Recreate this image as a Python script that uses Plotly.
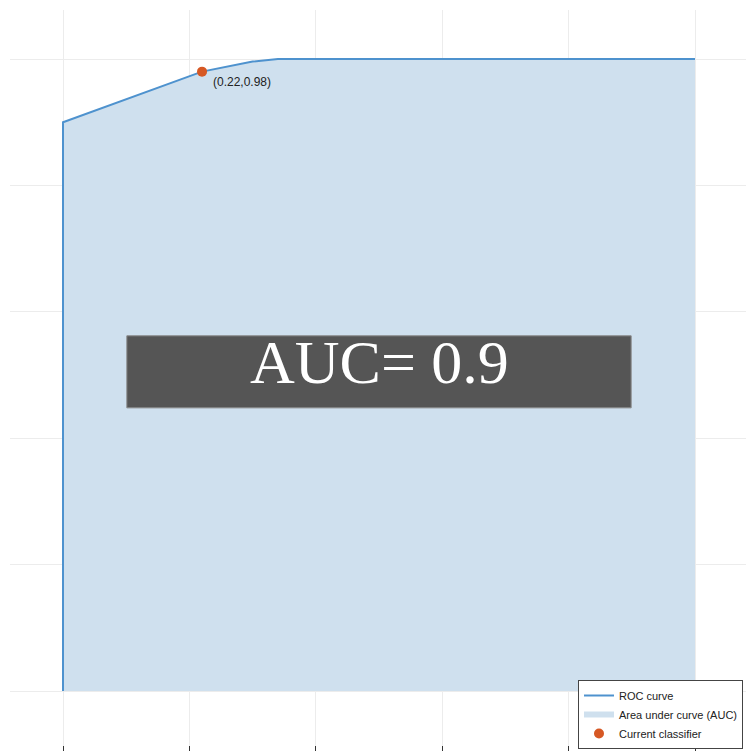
import plotly.graph_objects as go

# ROC data
fpr = [0.0, 0.0, 0.22, 0.30, 0.34, 1.0]
tpr = [0.0, 0.90, 0.98, 0.996, 1.0, 1.0]
classifier_x = [0.22]
classifier_y = [0.98]
classifier_label = "(0.22,0.98)"
auc_value = 0.9
grid_ticks = [0, 0.2, 0.4, 0.6, 0.8, 1.0]

LINE = "rgb(78,146,206)"
FILL = "rgb(207,224,238)"
DOT = "rgb(214,88,36)"

fig = go.Figure()
fig.add_trace(go.Scatter(
    x=fpr + [1.0], y=tpr + [0.0], mode="none", fill="toself", fillcolor=FILL,
    name="Area under curve (AUC)", legendrank=2, hoverinfo="skip"))
fig.add_trace(go.Scatter(
    x=fpr, y=tpr, mode="lines", line=dict(color=LINE, width=2),
    name="ROC curve", legendrank=1))
fig.add_trace(go.Scatter(
    x=classifier_x, y=classifier_y, mode="markers",
    marker=dict(color=DOT, size=10), name="Current classifier", legendrank=3))

fig.add_annotation(x=classifier_x[0], y=classifier_y[0], text=classifier_label,
                   showarrow=False, xanchor="left", yanchor="top", xshift=9, yshift=-1,
                   font=dict(family="Liberation Sans, Arial", size=12, color="#222"))

# AUC textbox
fig.add_shape(type="rect", x0=0.101, x1=0.899, y0=0.448, y1=0.562, xref="x", yref="y",
              fillcolor="#555555", line=dict(color="#8a8a8a", width=1))
fig.add_annotation(x=0.5, y=0.521, text=f"AUC= {auc_value}", showarrow=False,
                   xanchor="center", yanchor="middle",
                   font=dict(family="Liberation Serif, Times New Roman", size=62, color="white"))

fig.update_layout(
    width=746, height=751,
    margin=dict(l=10, r=0, t=10, b=0, autoexpand=False),
    plot_bgcolor="white", paper_bgcolor="white",
    legend=dict(x=(578 - 10) / 736, y=1 - (749 - 10) / 741, xanchor="left", yanchor="bottom",
                bgcolor="white", bordercolor="#444", borderwidth=1,
                font=dict(family="Liberation Sans, Arial", size=11, color="#222"),
                traceorder="normal", tracegroupgap=0),
    showlegend=True,
)
fig.update_xaxes(range=[(10 - 63) / 632, (746 - 63) / 632], tickvals=grid_ticks,
                 showticklabels=False, showgrid=True, gridcolor="rgb(236,236,236)", gridwidth=1,
                 zeroline=False, ticks="inside", ticklen=5, tickcolor="#333", showline=False)
fig.update_yaxes(range=[(691 - 751) / 632, (691 - 10) / 632], tickvals=grid_ticks,
                 showticklabels=False, showgrid=True, gridcolor="rgb(236,236,236)", gridwidth=1,
                 zeroline=False, ticks="", showline=False)

fig.write_html("out.html")
